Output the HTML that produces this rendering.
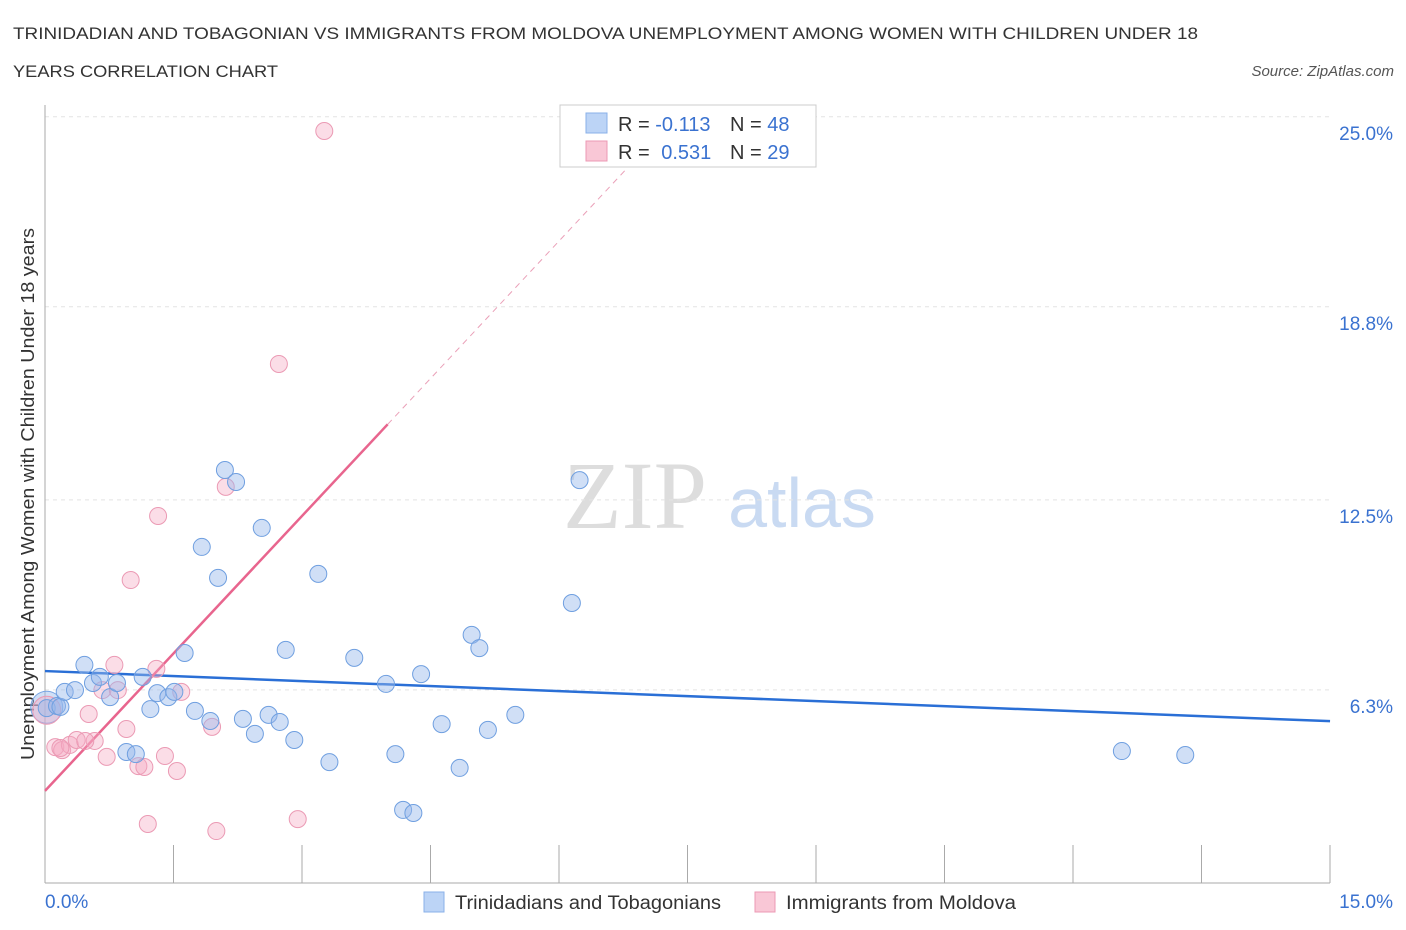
<!DOCTYPE html>
<html><head><meta charset="utf-8">
<style>
body{margin:0;background:#fff;font-family:"Liberation Sans",sans-serif;}
svg{display:block}
</style></head>
<body>
<svg id="chart" width="1406" height="930">
<text x="13" y="39" font-size="17" fill="#333" textLength="1185" lengthAdjust="spacingAndGlyphs">TRINIDADIAN AND TOBAGONIAN VS IMMIGRANTS FROM MOLDOVA UNEMPLOYMENT AMONG WOMEN WITH CHILDREN UNDER 18</text>
<text x="13" y="77" font-size="17" fill="#333" textLength="265" lengthAdjust="spacingAndGlyphs">YEARS CORRELATION CHART</text>
<text x="1394" y="76" font-size="15" fill="#555" font-style="italic" text-anchor="end">Source: ZipAtlas.com</text>
<text x="635" y="528" font-size="96" fill="#ddd" font-family="Liberation Serif,serif" text-anchor="middle">ZIP</text>
<text x="802" y="527" font-size="70" fill="#c9daf2" text-anchor="middle">atlas</text>
<text x="34" y="494" font-size="18" fill="#333" text-anchor="middle" textLength="532" lengthAdjust="spacingAndGlyphs" transform="rotate(-90 34 494)">Unemployment Among Women with Children Under 18 years</text>
<g id="grid"></g><g id="axes"></g><g id="lines"></g><g id="pts"></g>
<rect x="560" y="105" width="256" height="62" fill="#fff" stroke="#ccc"/>
<rect x="586" y="113" width="21" height="20" fill="#bcd4f6" stroke="#8ab0e8"/>
<rect x="586" y="141" width="21" height="20" fill="#f9c7d6" stroke="#ec9ab4"/>
<text x="618" y="131" font-size="20" fill="#333">R = <tspan fill="#3a72d0">-0.113</tspan></text>
<text x="730" y="131" font-size="20" fill="#333">N = <tspan fill="#3a72d0">48</tspan></text>
<text x="618" y="159" font-size="20" fill="#333">R = <tspan fill="#3a72d0" dx="6">0.531</tspan></text>
<text x="730" y="159" font-size="20" fill="#333">N = <tspan fill="#3a72d0">29</tspan></text>
<rect x="424" y="892" width="20" height="20" fill="#bcd4f6" stroke="#8ab0e8"/>
<text x="455" y="909" font-size="19" fill="#333" textLength="266" lengthAdjust="spacingAndGlyphs">Trinidadians and Tobagonians</text>
<rect x="755" y="892" width="20" height="20" fill="#f9c7d6" stroke="#ec9ab4"/>
<text x="786" y="909" font-size="19" fill="#333" textLength="230" lengthAdjust="spacingAndGlyphs">Immigrants from Moldova</text>
</svg>
<script>
const yTicks=[6.3,12.5,18.8,25.0];
const yTickLabels=["6.3%","12.5%","18.8%","25.0%"];
const xTickCount=10;
const xLabels=["0.0%","15.0%"];
const blueX=[0.02,0.14,0.18,0.23,0.35,0.46,0.56,0.64,0.76,0.84,1.14,1.23,1.31,1.44,1.51,1.63,1.75,1.83,1.93,2.02,2.10,2.23,2.31,2.45,2.53,2.61,2.74,2.81,2.91,3.19,3.32,3.61,3.98,4.09,4.18,4.30,4.39,4.63,4.84,4.98,5.07,5.17,5.49,6.15,6.24,12.57,13.31,0.95,1.06];
const blueY=[5.77,5.84,5.81,6.30,6.36,7.18,6.59,6.79,6.13,6.59,6.79,5.74,6.26,6.13,6.30,7.57,5.68,11.03,5.35,10.02,13.54,13.15,5.42,4.93,11.65,5.55,5.32,7.67,4.73,10.15,4.01,7.41,6.56,4.27,2.45,2.35,6.88,5.25,3.82,8.16,7.73,5.06,5.55,9.20,13.21,4.37,4.24,4.34,4.27];
const pinkX=[0.12,0.20,0.29,0.37,0.51,0.58,0.67,0.72,0.81,0.85,0.95,1.00,1.09,1.16,1.20,1.30,1.32,1.40,1.54,1.59,1.95,2.00,2.11,2.73,2.95,3.26,0.47,0.18];
const pinkY=[4.50,4.40,4.57,4.73,5.58,4.70,6.36,4.18,7.18,6.36,5.09,9.95,3.88,3.85,1.99,7.05,12.04,4.21,3.72,6.30,5.16,1.76,12.99,17.00,2.15,24.60,4.70,4.47];
const blueTrend=[6.98,-0.109]; // intercept, slope
const pinkTrend=[3.07,2.99];
const NS="http://www.w3.org/2000/svg";
const X=v=>45+v*85.67, Y=v=>885-v*30.65;
function mk(p,t,a){const e=document.createElementNS(NS,t);for(const k in a)e.setAttribute(k,a[k]);document.getElementById(p).appendChild(e);return e;}
yTicks.forEach((v,i)=>{
 const g=mk('grid','line',{x1:45,x2:1330,y1:Y(v)-2,y2:Y(v)-2,stroke:'#e4e4e4','stroke-dasharray':'4,4'});
 
 
 const t=mk('grid','text',{x:1393,y:Y(v)+21,'font-size':19,fill:'#3a72d0','text-anchor':'end'});
 t.textContent=yTickLabels[i];
 
 
});
const ya=mk('axes','line',{x1:45,x2:45,y1:105,y2:883,stroke:'#aaa'});


const xa=mk('axes','line',{x1:45,x2:1330,y1:883,y2:883,stroke:'#aaa'});


for(let i=1;i<=xTickCount;i++){const px=45+i*128.5;
 const t=mk('axes','line',{x1:px,x2:px,y1:845,y2:883,stroke:'#aaa'});
 
 }
const xl0=mk('axes','text',{x:45,y:908,'font-size':19,fill:'#3a72d0'});xl0.textContent=xLabels[0];


const xl1=mk('axes','text',{x:1393,y:908,'font-size':19,fill:'#3a72d0','text-anchor':'end'});xl1.textContent=xLabels[1];


const bl=mk('lines','line',{x1:X(0),y1:Y(blueTrend[0]),x2:X(15),y2:Y(blueTrend[0]+15*blueTrend[1]),stroke:'#2a6fd6','stroke-width':2.5});


const pl=mk('lines','line',{x1:X(0),y1:Y(pinkTrend[0]),x2:X(4),y2:Y(pinkTrend[0]+4*pinkTrend[1]),stroke:'#e8658e','stroke-width':2.5});


const pd=mk('lines','line',{x1:X(4),y1:Y(pinkTrend[0]+4*pinkTrend[1]),x2:X(7),y2:Y(pinkTrend[0]+7*pinkTrend[1]),stroke:'#eaa0b8','stroke-width':1,'stroke-dasharray':'6,5'});


const bb=mk('pts','circle',{cx:X(0.02),cy:Y(5.8),r:16,fill:'rgba(150,185,235,0.45)',stroke:'#7aa6e4'});


const pb=mk('pts','circle',{cx:X(0.02),cy:Y(5.7),r:14,fill:'rgba(244,170,195,0.4)',stroke:'#eb9ab4'});


pinkX.forEach((v,i)=>{const c=mk('pts','circle',{cx:X(v),cy:Y(pinkY[i]),r:8.5,fill:'rgba(244,170,195,0.4)',stroke:'#eb9ab4'});
 
 });
blueX.forEach((v,i)=>{const c=mk('pts','circle',{cx:X(v),cy:Y(blueY[i]),r:8.5,fill:'rgba(150,185,235,0.45)',stroke:'#6f9fe0'});
 
 });
</script>
</body></html>
